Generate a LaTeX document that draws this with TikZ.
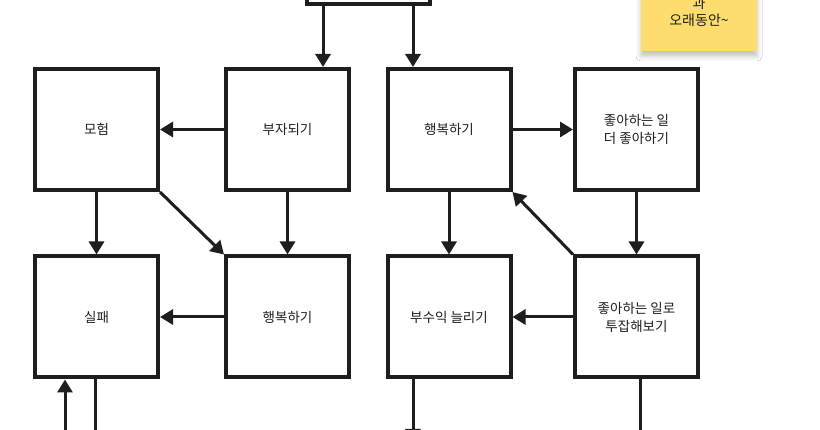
\documentclass[tikz,border=0pt]{standalone}
\usepackage{fontspec}
\setmainfont{Noto Sans CJK KR}
\usetikzlibrary{arrows.meta,shadows.blur}
\definecolor{ink}{HTML}{1E1E1E}
\definecolor{sticky}{HTML}{FDDD6E}
\begin{document}
\begin{tikzpicture}[x=1pt,y=-1pt,
  box/.style={draw=ink, line width=4pt, minimum width=123pt, minimum height=121pt,
    align=center, font=\fontsize{13.5}{18}\selectfont, text=ink, fill=white},
  arr/.style={draw=ink, line width=3pt, -{Triangle[length=13pt,width=15pt]}},
  ln/.style={draw=ink, line width=3pt},
  notetext/.style={align=center, font=\fontsize{14}{17}\selectfont, text=ink}]
\useasboundingbox (0,0) rectangle (820,430);
\clip (0,0) rectangle (820,430);
\fill[white] (0,0) rectangle (820,430);
% sticky note
\path[fill=sticky, blur shadow={shadow xshift=0pt, shadow yshift=-5pt, shadow blur radius=5pt, shadow opacity=25}]
  (641,-80) rectangle (757,51);
\node[notetext] (note) at (699,11.5) {과\\오래동안\textasciitilde};
% boxes
\node[box] (top) at (368.5,-56.5) {};
\node[box] (A) at (96.5,129.5) {모험};
\node[box] (B) at (287.5,129.5) {부자되기};
\node[box] (C) at (449,129.5) {행복하기};
\node[box] (D) at (636.5,129.5) {좋아하는 일\\더 좋아하기};
\node[box] (E) at (96.5,317) {실패};
\node[box] (F) at (287.5,317) {행복하기};
\node[box] (G) at (449,317) {부수익 늘리기};
\node[box] (H) at (636.5,317) {좋아하는 일로\\투잡해보기};
% connectors
\draw[arr] ([xshift=-45.5pt]top.south) -- ([xshift=-45.5pt]top.south |- B.north);
\draw[arr] ([xshift=44.5pt]top.south) -- ([xshift=44.5pt]top.south |- C.north);
\draw[arr] (B.west) -- (A.east);
\draw[arr] (C.east) -- (D.west);
\draw[arr] (A.south) -- (E.north);
\draw[arr] (B.south) -- (F.north);
\draw[arr] (A.south east) -- (F.north west);
\draw[arr] (C.south) -- (G.north);
\draw[arr] (D.south) -- (H.north);
\draw[arr] (H.north west) -- (C.south east);
\draw[arr] (F.west) -- (E.east);
\draw[arr] (H.west) -- (G.east);
\coordinate (e1) at (65,440);
\coordinate (e2) at (95,440);
\coordinate (g1) at (413,442);
\coordinate (h1) at (640,440);
\draw[arr] (e1) -- (e1 |- E.south);
\draw[ln] (E.south -| e2) -- (e2);
\draw[arr] (G.south -| g1) -- (g1);
\draw[ln] (H.south -| h1) -- (h1);
\end{tikzpicture}
\end{document}
